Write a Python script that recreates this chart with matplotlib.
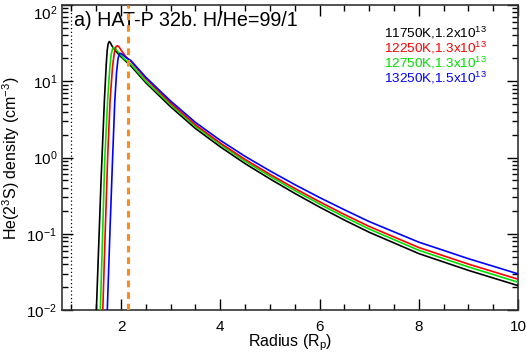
import numpy as np
import matplotlib
matplotlib.use("Agg")
import matplotlib.pyplot as plt
import matplotlib.transforms as mtransforms
from matplotlib.ticker import MultipleLocator, LogLocator, NullFormatter

plt.rcParams['font.family'] = ['Liberation Sans', 'DejaVu Sans']
plt.rcParams['mathtext.fontset'] = 'custom'
plt.rcParams['mathtext.rm'] = 'Liberation Sans'
plt.rcParams['mathtext.it'] = 'Liberation Sans:italic'
plt.rcParams['mathtext.default'] = 'regular'

# ---- data (radius in Rp, log10 of He(2^3S) density in cm^-3) ----
labels = ["11750K,1.2x10$^{13}$", "12250K,1.3x10$^{13}$",
          "12750K,1.3x10$^{13}$", "13250K,1.5x10$^{13}$"]
colors = ["black", "#ff0000", "#00e000", "#0000ff"]

r_black = [1.50, 1.55, 1.60, 1.665, 1.70, 1.72, 1.74, 1.76, 1.78, 1.82, 1.90, 2.00,
           2.2, 2.5, 3.0, 3.5, 4.0, 4.5, 5.0, 5.5, 6.0, 6.5, 7.0, 7.5, 8.0, 8.5, 9.0, 9.5, 10.0]
l_black = [-2.05, -1.15, -0.25, 0.757, 1.20, 1.40, 1.49, 1.52, 1.51, 1.46, 1.39, 1.32,
           1.20, 0.98, 0.665, 0.38, 0.14, -0.08, -0.28, -0.47, -0.65, -0.82, -0.98, -1.12, -1.26, -1.37, -1.48, -1.58, -1.68]

r_green = [1.58, 1.62, 1.67, 1.73, 1.77, 1.80, 1.83, 1.85, 1.88, 1.95, 2.05,
           2.2, 2.5, 3.0, 3.5, 4.0, 4.5, 5.0, 5.5, 6.0, 6.5, 7.0, 7.5, 8.0, 8.5, 9.0, 9.5, 10.0]
l_green = [-2.05, -1.20, -0.05, 0.757, 1.15, 1.35, 1.43, 1.44, 1.43, 1.38, 1.30,
           1.22, 1.00, 0.69, 0.408, 0.17, -0.048, -0.245, -0.432, -0.61, -0.779, -0.938, -1.077, -1.216, -1.326, -1.435, -1.535, -1.635]

r_red = [1.63, 1.68, 1.73, 1.78, 1.83, 1.87, 1.90, 1.93, 1.96, 2.02, 2.10,
         2.2, 2.5, 3.0, 3.5, 4.0, 4.5, 5.0, 5.5, 6.0, 6.5, 7.0, 7.5, 8.0, 8.5, 9.0, 9.5, 10.0]
l_red = [-2.05, -1.00, 0.00, 0.757, 1.20, 1.40, 1.455, 1.466, 1.45, 1.39, 1.32,
         1.26, 1.035, 0.715, 0.43, 0.19, -0.025, -0.22, -0.405, -0.58, -0.747, -0.904, -1.042, -1.18, -1.289, -1.398, -1.497, -1.596]

r_blue = [1.72, 1.78, 1.83, 1.875, 1.91, 1.94, 1.97, 1.99, 2.02, 2.10,
          2.2, 2.5, 3.0, 3.5, 4.0, 4.5, 5.0, 5.5, 6.0, 6.5, 7.0, 7.5, 8.0, 8.5, 9.0, 9.5, 10.0]
l_blue = [-2.05, -0.90, 0.00, 0.757, 1.12, 1.30, 1.36, 1.366, 1.355, 1.31,
          1.27, 1.052, 0.74, 0.46, 0.225, 0.015, -0.175, -0.355, -0.525, -0.685, -0.84, -0.975, -1.11, -1.218, -1.327, -1.426, -1.526]

planet_radius = 1.0
roche_radius = 2.15

fig = plt.figure(figsize=(5.27, 3.56), dpi=100)
ax = fig.add_axes([62/527, 1 - 310/356, (518-62)/527, (310-5)/356])

series = [(r_black, l_black), (r_red, l_red), (r_green, l_green), (r_blue, l_blue)]
for i in [0, 2, 1, 3]:
    r, l = series[i]
    ax.plot(r, 10**np.array(l), color=colors[i], lw=1.2, zorder=3)

ax.axvline(planet_radius, color='black', lw=0.9, ls=(0, (1, 2)), zorder=2)
ax.axvline(roche_radius, color='#ff8c1a', lw=2.2, ls=(0, (2.2, 1.6)), zorder=4)

ax.set_yscale('log')
ax.set_xlim(0.81, 10)
ax.set_ylim(1e-2, 1e2)
ax.xaxis.set_major_locator(MultipleLocator(2))
ax.xaxis.set_minor_locator(MultipleLocator(0.5))
ax.yaxis.set_major_locator(LogLocator(base=10, numticks=10))
ax.yaxis.set_minor_locator(LogLocator(base=10, subs=np.arange(2, 10), numticks=20))
ax.yaxis.set_minor_formatter(NullFormatter())
ax.tick_params(which='both', direction='in', top=True, right=True, labelsize=11, colors='black')
ax.tick_params(axis='x', pad=7)
ax.tick_params(which='major', length=8, width=1)
ax.tick_params(which='minor', length=4, width=1)
for s in ax.spines.values():
    s.set_linewidth(1.2)
    s.set_color('#333333')

fig.text(290/527, 1 - 343/356, "Radius (R$_p$)", fontsize=11.5, ha='center', va='center')
fig.text(11/527, 1 - 158/356, "He(2$^3$S) density (cm$^{-3}$)", fontsize=11.5,
         ha='center', va='center', rotation=90)

ax.text(74/527, 1 - 20/356, "a) HAT-P 32b. H/He=99/1", transform=fig.transFigure,
        fontsize=14.2, ha='left', va='center')

ys = [33, 48, 63, 78]
for lab, c, yp in zip(labels, colors, ys):
    ax.text(487/527, 1 - yp/356, lab, transform=fig.transFigure, color=c,
            fontsize=9.7, ha='right', va='center')

# keep the top y tick label inside the figure
fig.canvas.draw()
shift = mtransforms.ScaledTranslation(0, -5/72, fig.dpi_scale_trans)
for tick in ax.yaxis.get_major_ticks():
    if abs(tick.get_loc() - 1e2) < 1e-6:
        tick.label1.set_transform(tick.label1.get_transform() + shift)

fig.savefig("out.png", dpi=100)
